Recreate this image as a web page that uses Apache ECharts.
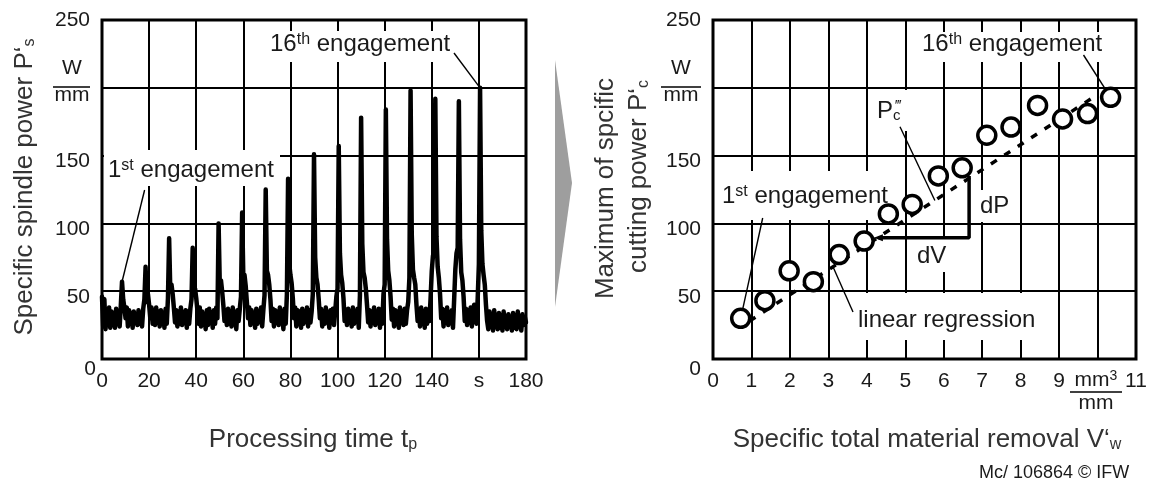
<!DOCTYPE html>
<html><head><meta charset="utf-8">
<script src="https://cdn.jsdelivr.net/npm/echarts@6/dist/echarts.min.js"></script>
<style>html,body{margin:0;padding:0;background:#fff}#c{width:1157px;height:485px}</style>
</head><body><div id="c"></div>
<script>
// ---------- data ----------
const timeStep = 0.5; // s between samples of the spindle power trace
const spindlePower = [
  46,24,44,22,36,25,38,23,35,26,
  34,23,37,26,35,24,40,57,44,38,
  30,38,24,36,27,34,23,35,28,33,
  25,36,26,34,24,37,44,68,42,48,
  40,30,38,26,36,25,38,27,35,24,
  36,27,34,23,37,26,45,89,50,55,
  48,38,27,36,24,35,26,38,25,34,
  27,36,23,35,26,37,44,82,48,52,
  45,36,26,38,24,35,27,33,22,36,
  25,37,28,34,23,36,26,38,30,100,
  55,58,50,40,28,36,25,37,26,35,
  24,38,27,34,22,36,28,37,46,108,
  60,62,54,42,30,38,25,36,27,34,
  23,37,26,35,28,38,24,36,47,125,
  65,62,55,44,28,37,24,36,27,35,
  25,38,28,34,22,37,26,48,133,70,
  62,56,45,30,38,24,36,27,35,23,
  37,26,34,28,38,24,36,27,35,48,
  151,75,60,55,44,30,37,24,35,26,
  38,27,34,23,36,28,37,25,35,46,
  52,157,78,62,56,45,28,36,25,37,
  27,35,24,38,26,34,28,37,23,47,
  178,85,64,60,52,40,27,36,24,35,
  28,38,25,34,27,37,23,36,26,48,
  55,184,88,65,58,46,29,37,24,36,
  27,35,23,38,28,34,25,37,26,36,
  42,60,198,92,66,60,55,40,28,36,
  24,38,27,35,23,37,26,34,28,45,
  65,76,80,192,90,68,60,48,30,37,
  24,36,27,38,25,34,28,36,23,44,
  66,78,82,190,88,64,58,46,28,37,
  25,36,27,38,24,35,40,38,26,45,
  70,200,95,70,62,55,40,28,22,35,
  24,33,21,36,25,31,22,34,23,32,
  21,35,24,30,22,33,25,31,21,34,
  23,32,22,35,24,30,21,33,25,31,
  27
];
const firstPeakIdx = 17, lastPeakIdx = 321;

const leftXTicks  = ['0','20','40','60','80','100','120','140','s','180'];
const rightXTicks = ['0','1','2','3','4','5','6','7','8','9','','11'];
const yTicks      = ['0','50','100','150','','250'];

const removalVw = [0.72,1.35,1.98,2.61,3.28,3.93,4.56,5.18,5.86,6.48,7.12,7.75,8.44,9.09,9.74,10.34];
const maxPc     = [30,43,65,57,77,87,107,114,135,141,165,171,187,177,181,193];
const regressionVw = [0.95, 10.0];
const regressionPc = [28, 195];
const slopeVw = [4.3, 6.66, 6.66];
const slopePc = [89.5, 89.5, 135];

// ---------- chart ----------
const FONT = '"Liberation Sans", Arial, Helvetica, sans-serif';
const TXT = '#1a1a1a';
const chart = echarts.init(document.getElementById('c'));

function xAxisCfg(grid, max, interval, ticks) {
  return {
    type: 'value', gridIndex: grid, min: 0, max: max, interval: interval,
    axisLine: {show: false}, axisTick: {show: false},
    splitLine: {show: true, lineStyle: {color: '#000', width: 2}},
    axisLabel: {margin: 12, color: TXT, fontFamily: FONT, fontSize: 21,
      formatter: v => ticks[Math.round(v / interval)]}
  };
}
function yAxisCfg(grid, zeroPad) {
  const tok = (p) => ({padding: p, fontSize: 21, fontFamily: FONT, color: TXT});
  return {
    type: 'value', gridIndex: grid, min: 0, max: 250, interval: 50,
    axisLine: {show: false}, axisTick: {show: false},
    splitLine: {show: true, lineStyle: {color: '#000', width: 2}},
    axisLabel: {margin: 6, color: TXT, fontFamily: FONT, fontSize: 21,
      formatter: v => {
        const s = yTicks[Math.round(v / 50)];
        if (!s) return '';
        if (v === 0) return '{z|' + s + '}';
        if (v === 250) return '{t|' + s + '}';
        return '{d|' + s + '}';
      },
      rich: {z: tok(zeroPad), t: tok([0, 6, 0, 0]), d: tok([12, 6, 0, 0])}
    }
  };
}

const option = {
  animation: false,
  backgroundColor: '#fff',
  grid: [
    {left: 102, top: 20, width: 424, height: 339, show: true, borderColor: '#000', borderWidth: 3},
    {left: 713, top: 20, width: 423, height: 339, show: true, borderColor: '#000', borderWidth: 3}
  ],
  xAxis: [xAxisCfg(0, 180, 20, leftXTicks), xAxisCfg(1, 11, 1, rightXTicks)],
  yAxis: [yAxisCfg(0, [20, 0, 0, 0]), yAxisCfg(1, [20, 6, 0, 0])],
  series: [
    {type: 'line', xAxisIndex: 0, yAxisIndex: 0, z: 2, symbol: 'none',
      data: spindlePower.map((v, i) => [i * timeStep, v]),
      lineStyle: {color: '#000', width: 4.5, join: 'round', cap: 'round'}},
    {type: 'line', xAxisIndex: 1, yAxisIndex: 1, z: 2, symbol: 'none',
      data: regressionVw.map((v, i) => [v, regressionPc[i]]),
      lineStyle: {color: '#000', width: 3.5, type: [7, 9]}},
    {type: 'line', xAxisIndex: 1, yAxisIndex: 1, z: 2, showSymbol: true,
      data: slopeVw.map((v, i) => i === 0
        ? {value: [v, slopePc[i]], symbol: 'triangle', symbolSize: [7, 9], symbolRotate: 90}
        : {value: [v, slopePc[i]], symbol: 'none'}),
      itemStyle: {color: '#000'},
      lineStyle: {color: '#000', width: 3.5}},
    {type: 'scatter', xAxisIndex: 1, yAxisIndex: 1, z: 5, symbol: 'circle', symbolSize: 18,
      data: removalVw.map((v, i) => [v, maxPc[i]]),
      itemStyle: {color: '#fff', borderColor: '#000', borderWidth: 3.5, opacity: 1}}
  ]
};
chart.setOption(option);

// ---------- annotations ----------
const L = p => chart.convertToPixel({gridIndex: 0}, p);
const R = p => chart.convertToPixel({gridIndex: 1}, p);
const regAt = x => regressionPc[0] + (regressionPc[1] - regressionPc[0]) * (x - regressionVw[0]) / (regressionVw[1] - regressionVw[0]);

const richStyle = (size, color) => ({
  n: {fontSize: size, fontFamily: FONT, fill: color},
  sup: {fontSize: Math.round(size * 0.66), fontFamily: FONT, fill: color, verticalAlign: 'top'},
  sub: {fontSize: Math.round(size * 0.62), fontFamily: FONT, fill: color, verticalAlign: 'bottom'}
});
function txt(x, y, text, size, opt) {
  opt = opt || {};
  const color = opt.color || TXT;
  return {type: 'text', x: x, y: y, z: 3, rotation: opt.rotation || 0,
    style: {text: text, fontSize: size, fontFamily: FONT, fill: color,
      align: opt.align || 'left', textAlign: opt.align || 'left',
      verticalAlign: opt.va || 'middle', textVerticalAlign: opt.va || 'middle',
      rich: richStyle(size, color)}};
}
function box(x, y, w, h) {
  return {type: 'rect', z: 1, shape: {x: x, y: y, width: w, height: h}, style: {fill: '#fff'}};
}
function seg(a, b, w) {
  return {type: 'line', z: 1, z2: 5, shape: {x1: a[0], y1: a[1], x2: b[0], y2: b[1]},
    style: {stroke: '#000', lineWidth: w || 1.4}};
}

const p1 = L([firstPeakIdx * timeStep, spindlePower[firstPeakIdx]]);
const p16 = L([lastPeakIdx * timeStep, spindlePower[lastPeakIdx]]);
const c1 = R([removalVw[0], maxPc[0]]);
const c16 = R([removalVw[15], maxPc[15]]);
const regA = R([3.12, regAt(3.12)]);
const regB = R([5.77, regAt(5.77)]);

const ANN = 24, TITLE = 26;
const graphic = [
  // white boxes behind annotation texts (hide grid lines)
  box(104, 150, 176, 36), box(265, 31, 195, 31),
  box(915, 32, 190, 30), box(870, 90, 45, 41), box(715, 171, 172, 49),
  box(972, 190, 43, 32), box(908, 239, 47, 33), box(845, 293, 195, 47),
  // leader lines
  seg([144.6, 190], p1), seg([454, 53], p16),
  seg([1083.5, 55], c16), seg([762.7, 218], c1),
  seg([853, 312], regA), seg([900, 126.7], regB),
  // annotation texts
  txt(108, 170, '{n|1}{sup|st}{n| engagement}', ANN),
  txt(270, 44, '{n|16}{sup|th}{n| engagement}', ANN),
  txt(922, 44, '{n|16}{sup|th}{n| engagement}', ANN),
  txt(722, 196, '{n|1}{sup|st}{n| engagement}', ANN),
  txt(858, 320, '{n|linear regression}', ANN),
  txt(917, 256, '{n|dV}', ANN),
  txt(980, 206, '{n|dP}', ANN),
  txt(877, 111, '{n|P}{sub|c}', ANN),
  txt(896, 106, '{n|‴}', 15),
  // units
  txt(72, 68, '{n|W}', 21, {align: 'center'}),
  seg([53, 87], [90, 87], 1.5),
  txt(72, 95, '{n|mm}', 21, {align: 'center'}),
  txt(681, 68, '{n|W}', 21, {align: 'center'}),
  seg([661, 87], [701, 87], 1.5),
  txt(681, 95, '{n|mm}', 21, {align: 'center'}),
  txt(1096, 380, '{n|mm}{sup|3}', 21, {align: 'center'}),
  seg([1070, 392], [1122, 392], 1.5),
  txt(1096, 403, '{n|mm}', 21, {align: 'center'}),
  // axis titles
  txt(313, 440, '{n|Processing time t}{sub|p}', TITLE, {align: 'center', color: '#333'}),
  txt(927, 440, '{n|Specific total material removal V‘}{sub|w}', TITLE, {align: 'center', color: '#333'}),
  txt(25, 187, '{n|Specific spindle power P‘}{sub|s}', TITLE, {align: 'center', rotation: Math.PI / 2, color: '#333'}),
  txt(606, 78, '{n|Maximum of spcific}', TITLE, {align: 'right', rotation: Math.PI / 2, color: '#333'}),
  txt(639, 80, '{n|cutting power P‘}{sub|c}', TITLE, {align: 'right', rotation: Math.PI / 2, color: '#333'}),
  // footer
  txt(979, 473, '{n|Mc/ 106864 © IFW}', 18),
  // arrow between the charts
  {type: 'polygon', z: 1, shape: {points: [[555, 60], [572, 183], [555, 307]]}, style: {fill: '#9e9e9e'}}
];
chart.setOption({graphic: graphic});
</script>
</body></html>
